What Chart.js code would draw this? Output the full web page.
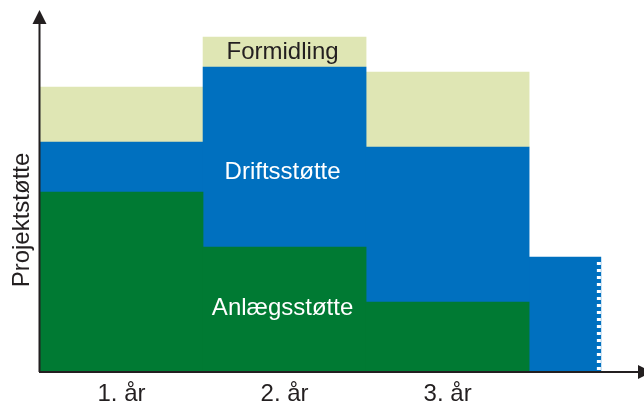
<!DOCTYPE html>
<html>
<head>
<meta charset="utf-8">
<script src="https://cdn.jsdelivr.net/npm/chart.js@4.4.0/dist/chart.umd.min.js"></script>
<style>
  html, body { margin: 0; padding: 0; background: #fff; }
</style>
</head>
<body>
<canvas id="chart" width="644" height="402"></canvas>
<script>
// data
const years = ['1. år', '2. år', '3. år'];
const anlaegsstoette = [180, 125, 70];
const driftsstoette = [50, 180, 155];
const formidling = [55, 30, 75];
// driftsstøtten løber videre et stykke ind i 4. år
const fortsatDrift = [115];
const fortsatStart = [3];
const fortsatVarighed = [0.44];
const xMax = 3.68;
const yMax = 360;

const ink = '#231f20';
const font = '"Liberation Sans", Arial, sans-serif';

function points(values) {
    return values.map((v, i) => ({ x: i + 0.5, y: v }));
}

// axes with arrow heads, ragged edge on the last bar, text inside the bars
const drawExtras = {
    id: 'drawExtras',
    afterDatasetsDraw(chart) {
        const ctx = chart.ctx;
        const area = chart.chartArea;

        // perforated right edge of the continuing bar
        const tail = chart.getDatasetMeta(3).data[0];
        const right = tail.x + tail.width / 2;
        ctx.save();
        ctx.strokeStyle = '#ffffff';
        ctx.lineWidth = 4;
        ctx.setLineDash([3, 4]);
        ctx.beginPath();
        ctx.moveTo(right - 2, tail.y + 5);
        ctx.lineTo(right - 2, tail.base);
        ctx.stroke();
        ctx.restore();

        // labels inside the 2nd year bar
        ctx.save();
        ctx.font = '24px ' + font;
        ctx.textAlign = 'center';
        ctx.textBaseline = 'middle';
        const items = [
            { ds: 2, colour: ink, dy: 0 },
            { ds: 1, colour: '#ffffff', dy: 15 },
            { ds: 0, colour: '#ffffff', dy: -1 }
        ];
        items.forEach(it => {
            const bar = chart.getDatasetMeta(it.ds).data[1];
            ctx.fillStyle = it.colour;
            ctx.fillText(chart.data.datasets[it.ds].label, bar.x - 2, (bar.y + bar.base) / 2 + it.dy);
        });
        ctx.restore();

        // axis lines
        ctx.save();
        ctx.strokeStyle = ink;
        ctx.fillStyle = ink;
        ctx.lineWidth = 2;
        ctx.beginPath();
        ctx.moveTo(area.left - 0.5, area.bottom);
        ctx.lineTo(area.left - 0.5, area.top + 10);
        ctx.moveTo(area.left - 1, area.bottom);
        ctx.lineTo(area.right - 2, area.bottom);
        ctx.stroke();

        ctx.beginPath();
        ctx.moveTo(area.left - 0.5, area.top - 2);
        ctx.lineTo(area.left - 7.5, area.top + 12);
        ctx.lineTo(area.left + 6.5, area.top + 12);
        ctx.closePath();
        ctx.fill();

        ctx.beginPath();
        ctx.moveTo(area.right + 12, area.bottom);
        ctx.lineTo(area.right - 2, area.bottom - 7);
        ctx.lineTo(area.right - 2, area.bottom + 7);
        ctx.closePath();
        ctx.fill();

        // y axis title
        ctx.translate(22, 220);
        ctx.rotate(-Math.PI / 2);
        ctx.font = '24px ' + font;
        ctx.textAlign = 'center';
        ctx.textBaseline = 'middle';
        ctx.fillText('Projektstøtte', 0, 0);
        ctx.restore();
    }
};

const ctx = document.getElementById('chart').getContext('2d');

new Chart(ctx, {
    type: 'bar',
    data: {
        datasets: [
            { label: 'Anlægsstøtte', data: points(anlaegsstoette), backgroundColor: '#007a33' },
            { label: 'Driftsstøtte', data: points(driftsstoette), backgroundColor: '#0070bf' },
            { label: 'Formidling', data: points(formidling), backgroundColor: '#dfe6b4' },
            {
                label: 'Driftsstøtte (fortsat)',
                data: fortsatDrift.map((v, i) => ({ x: fortsatStart[i] + fortsatVarighed[i] / 2, y: v })),
                backgroundColor: '#0070bf',
                xAxisID: 'x2'
            }
        ]
    },
    options: {
        responsive: false,
        animation: false,
        datasets: {
            bar: { barPercentage: 1, categoryPercentage: 1, borderWidth: 0, grouped: false }
        },
        layout: { padding: { top: 12, right: 4, left: 40, bottom: 0 } },
        plugins: {
            legend: { display: false },
            tooltip: { enabled: false }
        },
        scales: {
            x: {
                type: 'linear',
                offset: false,
                min: 0,
                max: xMax,
                stacked: true,
                grid: { display: false },
                border: { display: false },
                afterBuildTicks: s => { s.ticks = years.map((_, i) => ({ value: i + 0.5 })); },
                afterFit: s => { s.height = 30; },
                ticks: {
                    autoSkip: false,
                    maxRotation: 0,
                    padding: 0,
                    color: ink,
                    font: { family: font, size: 24 },
                    callback: (value, index) => years[index]
                }
            },
            x2: {
                type: 'linear',
                display: false,
                offset: false,
                min: 0,
                max: xMax,
                stacked: true,
                afterBuildTicks: s => {
                    s.ticks = [{ value: fortsatStart[0] }, { value: fortsatStart[0] + fortsatVarighed[0] }];
                }
            },
            y: {
                display: false,
                stacked: true,
                min: 0,
                max: yMax
            }
        }
    },
    plugins: [drawExtras]
});
</script>
</body>
</html>
